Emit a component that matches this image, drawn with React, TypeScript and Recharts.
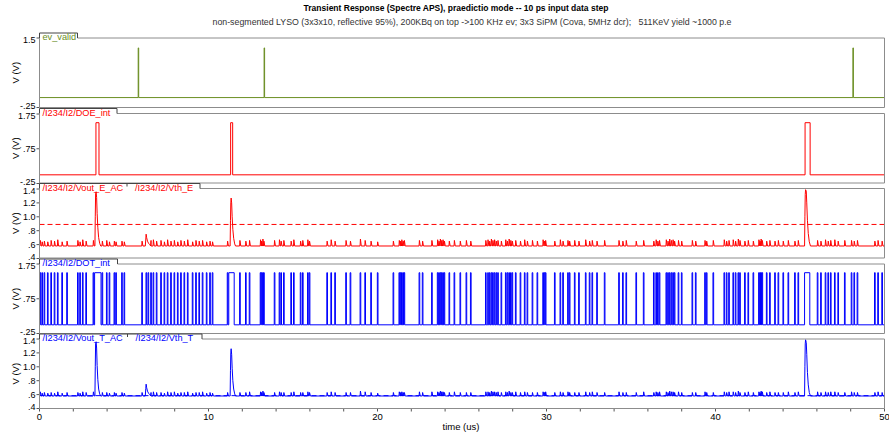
import React from "react";
import { LineChart, Line, XAxis, YAxis } from "recharts";

// time axis in us
const T_MAX = 50;
const X_TICKS = [0, 2, 4, 6, 8, 10, 12, 14, 16, 18, 20, 22, 24, 26, 28, 30, 32, 34, 36, 38, 40, 42, 44, 46, 48, 50];

const BASE = 0.58; // AC output resting level
const HIGH = 1.5; // digital high
const EV_HIGH = 1.25;
const VTH_E = 0.89;
const VTH_T = 0.585;

// [start, end] in us
const EV_PULSES = [[5.84, 5.87], [13.29, 13.32], [48.13, 48.16]];
const DOE_PULSES = [[3.34, 3.52], [11.31, 11.43], [45.3, 45.6]];
const DOT_WIDE = [[3.26, 3.64], [6.3, 6.34], [6.42, 6.46], [11.2, 11.52], [45.27, 45.58]];

// dark-count spikes: [t, height on Vout_E, height on Vout_T]
const SPIKES = [
  [0.05, 0.08, 0.06], [0.16, 0.06, 0.04], [0.29, 0.07, 0.05], [0.49, 0.06, 0.04], [0.69, 0.08, 0.05],
  [0.89, 0.07, 0.04], [1.08, 0.09, 0.06], [1.34, 0.06, 0.04], [1.63, 0.07, 0.05], [2.27, 0.08, 0.05],
  [2.4, 0.06, 0.04], [2.56, 0.09, 0.06], [2.76, 0.07, 0.05], [3.19, 0.08, 0.06], [3.72, 0.07, 0.05],
  [3.98, 0.08, 0.05], [4.14, 0.06, 0.04], [4.43, 0.07, 0.05], [4.53, 0.06, 0.04], [4.88, 0.07, 0.05],
  [5.02, 0.06, 0.04], [6.07, 0.07, 0.05], [6.6, 0.08, 0.05], [6.74, 0.09, 0.06], [6.93, 0.07, 0.05],
  [7.19, 0.08, 0.05], [7.39, 0.06, 0.04], [7.58, 0.09, 0.06], [7.78, 0.07, 0.05], [7.98, 0.08, 0.06],
  [8.18, 0.06, 0.04], [8.37, 0.08, 0.05], [8.57, 0.07, 0.05], [8.77, 0.09, 0.06], [9.06, 0.06, 0.04],
  [9.26, 0.08, 0.05], [9.45, 0.07, 0.05], [9.65, 0.08, 0.06], [9.89, 0.06, 0.04], [10.09, 0.07, 0.05],
  [10.24, 0.06, 0.04], [11.13, 0.07, 0.05], [11.86, 0.08, 0.05], [12.21, 0.07, 0.05], [12.43, 0.08, 0.06],
  [13.08, 0.09, 0.06], [13.14, 0.07, 0.05], [13.22, 0.1, 0.07], [13.28, 0.07, 0.05], [13.91, 0.08, 0.05],
  [14.2, 0.09, 0.06], [14.3, 0.07, 0.05], [14.46, 0.08, 0.05], [14.89, 0.07, 0.05], [15.05, 0.09, 0.06],
  [15.45, 0.07, 0.05], [15.58, 0.08, 0.05], [15.88, 0.09, 0.06], [15.98, 0.07, 0.05], [17.02, 0.07, 0.05],
  [17.26, 0.09, 0.06], [17.49, 0.07, 0.05], [18.14, 0.08, 0.05], [18.4, 0.07, 0.05], [18.99, 0.1, 0.07],
  [19.27, 0.08, 0.06], [19.62, 0.07, 0.05], [20.01, 0.06, 0.04], [20.94, 0.07, 0.05], [21.29, 0.08, 0.06],
  [21.37, 0.07, 0.05], [21.44, 0.09, 0.06], [21.52, 0.07, 0.05], [21.59, 0.08, 0.05], [22.48, 0.08, 0.06],
  [22.67, 0.07, 0.05], [23.22, 0.08, 0.06], [23.56, 0.09, 0.06], [23.64, 0.07, 0.05], [23.72, 0.1, 0.07],
  [23.8, 0.08, 0.06], [23.88, 0.09, 0.06], [23.96, 0.07, 0.05], [24.25, 0.07, 0.05], [24.55, 0.08, 0.06],
  [24.9, 0.07, 0.05], [25.26, 0.08, 0.05], [25.52, 0.07, 0.05], [26.41, 0.08, 0.06], [26.54, 0.09, 0.06],
  [26.64, 0.07, 0.05], [26.74, 0.1, 0.07], [26.83, 0.08, 0.06], [26.93, 0.09, 0.06], [27.03, 0.07, 0.05],
  [27.13, 0.08, 0.06], [27.33, 0.07, 0.05], [27.59, 0.09, 0.06], [27.69, 0.07, 0.05], [27.79, 0.1, 0.07],
  [27.89, 0.08, 0.05], [27.98, 0.07, 0.05], [28.18, 0.08, 0.06], [28.46, 0.07, 0.05], [28.71, 0.09, 0.06],
  [28.87, 0.07, 0.05], [29.17, 0.08, 0.05], [29.46, 0.07, 0.05], [29.8, 0.09, 0.06], [29.88, 0.07, 0.05],
  [29.95, 0.08, 0.06], [30.49, 0.07, 0.05], [30.82, 0.09, 0.06], [30.98, 0.07, 0.05], [31.27, 0.08, 0.06],
  [31.37, 0.07, 0.05], [31.67, 0.08, 0.05], [31.92, 0.07, 0.05], [32.32, 0.09, 0.06], [32.55, 0.07, 0.05],
  [32.71, 0.08, 0.06], [32.99, 0.07, 0.05], [33.44, 0.08, 0.05], [34.29, 0.08, 0.06], [34.52, 0.07, 0.05],
  [34.72, 0.08, 0.05], [35.31, 0.07, 0.05], [35.75, 0.08, 0.06], [36.35, 0.07, 0.05], [36.49, 0.09, 0.06],
  [36.59, 0.07, 0.05], [36.69, 0.08, 0.06], [37.09, 0.09, 0.06], [37.19, 0.07, 0.05], [37.29, 0.1, 0.07],
  [37.39, 0.08, 0.06], [37.49, 0.09, 0.06], [37.58, 0.07, 0.05], [37.81, 0.08, 0.06], [38.0, 0.07, 0.05],
  [38.63, 0.08, 0.05], [38.83, 0.07, 0.05], [39.38, 0.08, 0.06], [39.48, 0.07, 0.05], [39.87, 0.08, 0.05],
  [40.52, 0.09, 0.06], [40.66, 0.07, 0.05], [40.8, 0.08, 0.06], [41.05, 0.09, 0.06], [41.19, 0.07, 0.05],
  [41.35, 0.1, 0.07], [41.45, 0.08, 0.05], [41.74, 0.07, 0.05], [41.94, 0.08, 0.06], [42.24, 0.07, 0.05],
  [42.57, 0.09, 0.06], [42.64, 0.07, 0.05], [42.7, 0.1, 0.07], [42.77, 0.08, 0.06], [43.03, 0.07, 0.05],
  [43.22, 0.08, 0.06], [43.52, 0.07, 0.05], [43.72, 0.08, 0.05], [44.01, 0.07, 0.05], [44.31, 0.08, 0.06],
  [44.7, 0.07, 0.05], [44.9, 0.08, 0.06], [46.04, 0.08, 0.06], [46.24, 0.07, 0.05], [46.51, 0.09, 0.06],
  [46.67, 0.07, 0.05], [46.82, 0.08, 0.06], [47.06, 0.09, 0.06], [47.26, 0.07, 0.05], [47.65, 0.08, 0.05],
  [48.05, 0.08, 0.06], [48.21, 0.07, 0.05], [48.4, 0.08, 0.05], [49.43, 0.07, 0.05], [49.62, 0.08, 0.06],
  [49.86, 0.07, 0.05],
];

// event pulses [t, V]
const PEAKS_E = [
  [3.28, 0.58], [3.3, 1.0], [3.32, 1.33], [3.35, 1.36], [3.38, 1.28], [3.41, 1.05], [3.45, 0.85], [3.5, 0.7], [3.56, 0.62], [3.62, 0.58],
  [6.26, 0.58], [6.29, 0.68], [6.31, 0.75], [6.34, 0.7], [6.39, 0.65], [6.45, 0.62], [6.52, 0.6], [6.6, 0.58],
  [11.28, 0.58], [11.3, 0.95], [11.32, 1.2], [11.34, 1.27], [11.37, 1.2], [11.4, 1.0], [11.44, 0.82], [11.49, 0.69], [11.55, 0.61], [11.6, 0.58],
  [45.27, 0.58], [45.29, 1.0], [45.31, 1.32], [45.33, 1.39], [45.37, 1.37], [45.4, 1.2], [45.44, 0.95], [45.49, 0.76], [45.55, 0.64], [45.62, 0.58],
];
const PEAKS_T = [
  [3.28, 0.58], [3.3, 1.0], [3.32, 1.33], [3.35, 1.36], [3.38, 1.27], [3.41, 1.02], [3.45, 0.82], [3.5, 0.68], [3.56, 0.61], [3.62, 0.58],
  [6.26, 0.58], [6.29, 0.69], [6.31, 0.75], [6.34, 0.7], [6.39, 0.65], [6.45, 0.62], [6.52, 0.6], [6.6, 0.58],
  [11.28, 0.58], [11.3, 0.95], [11.32, 1.2], [11.34, 1.26], [11.37, 1.18], [11.4, 0.98], [11.44, 0.8], [11.49, 0.68], [11.55, 0.61], [11.6, 0.58],
  [45.27, 0.58], [45.29, 1.0], [45.31, 1.33], [45.33, 1.39], [45.37, 1.35], [45.4, 1.18], [45.44, 0.92], [45.49, 0.74], [45.55, 0.63], [45.62, 0.58],
];

const TICKS_DIG = [1.75, 0.75, -0.25];
const LABELS_DIG = ["1.75", ".75", "-.25"];
const TICKS_EV = [1.5, -0.25];
const LABELS_EV = ["1.5", "-.25"];
const TICKS_AC = [1.4, 1.2, 1.0, 0.8, 0.6, 0.4];
const LABELS_AC = ["1.4", "1.2", "1.0", ".8", ".6", ".4"];

const GREEN = "#6b8e23";
const RED = "#ff0000";
const BLUE = "#0000ff";
const FONT = "'Liberation Sans', Arial, sans-serif";

const W = 889;
const LEFT = 39.5;
const RIGHT = 884.5;
const PLOT_H = 69.5;
const PAD = 12;
const TOPS = [38, 113.5, 188.5, 264, 339];

function pulseTrain(pulses: number[][], high: number) {
  const pts = [{ t: 0, v: 0 }];
  [...pulses].sort((a, b) => a[0] - b[0]).forEach(([s, e]) => {
    pts.push({ t: s, v: 0 }, { t: s, v: high }, { t: e, v: high }, { t: e, v: 0 });
  });
  pts.push({ t: T_MAX, v: 0 });
  return pts;
}

function acTrace(col: number, peaks: number[][]) {
  const pts: number[][] = [[0, BASE], [T_MAX, BASE]];
  SPIKES.forEach((s) => {
    pts.push([s[0] - 0.02, BASE], [s[0], BASE + s[col]], [s[0] + 0.05, BASE]);
  });
  peaks.forEach((p) => pts.push(p));
  return pts.sort((a, b) => a[0] - b[0]).map(([t, v]) => ({ t, v }));
}

const evData = pulseTrain(EV_PULSES, EV_HIGH);
const doeData = pulseTrain(DOE_PULSES, HIGH);
const dotData = pulseTrain(SPIKES.map((s) => [s[0] - 0.02, s[0] + 0.02]).concat(DOT_WIDE), HIGH);
const voutE = acTrace(1, PEAKS_E);
const voutT = acTrace(2, PEAKS_T);
const vthE = [{ t: 0, v: VTH_E }, { t: T_MAX, v: VTH_E }];
const vthT = [{ t: 0, v: VTH_T }, { t: T_MAX, v: VTH_T }];

const tickStyle = { fontSize: 9, fill: "#000", fontFamily: FONT };

// y tick label; the end labels are nudged inwards so neighbouring panels don't collide
const makeYTick = (ticks: number[], labels: string[]) => (props: any) => {
  const { x, y, payload } = props;
  const i = ticks.indexOf(payload.value);
  const dy = i === 0 ? 1.5 : i === ticks.length - 1 ? -1.5 : 0;
  return (
    <text x={x} y={y + dy} dy="0.35em" textAnchor="end" {...tickStyle}>
      {labels[i] ?? ""}
    </text>
  );
};

type PanelProps = {
  top: number;
  domain: number[];
  ticks: number[];
  labels: string[];
  showX?: boolean;
  children: React.ReactNode;
};

const Panel = ({ top, domain, ticks, labels, showX, children }: PanelProps) => {
  const xH = showX ? 22 : 0;
  return (
    <div style={{ position: "absolute", left: 0, top: top - PAD }}>
      <LineChart
        width={W}
        height={PAD + PLOT_H + (showX ? xH : PAD)}
        margin={{ top: PAD, right: W - RIGHT, bottom: showX ? 0 : PAD, left: 8.5 }}
      >
        <XAxis
          type="number"
          dataKey="t"
          domain={[0, T_MAX]}
          ticks={X_TICKS}
          interval={0}
          hide={!showX}
          height={xH}
          axisLine={false}
          tickSize={3}
          tickMargin={2}
          tickLine={{ stroke: "#555" }}
          tick={{ ...tickStyle, fontSize: 9.5 }}
          tickFormatter={(v: number) => (v % 10 === 0 ? String(v) : "")}
          allowDataOverflow
        />
        <YAxis
          type="number"
          dataKey="v"
          domain={domain}
          ticks={ticks}
          interval={0}
          width={LEFT - 8.5}
          axisLine={false}
          tickSize={3}
          tickMargin={1}
          tickLine={{ stroke: "#555" }}
          tick={makeYTick(ticks, labels)}
          allowDataOverflow
        />
        {children}
      </LineChart>
    </div>
  );
};

// plot frame whose top edge steps up into a label tab at the left
const Frame = ({ top, names, color, edges }: { top: number; names: string[]; color: string; edges: number[] }) => {
  const tTop = top - 5;
  const tabR = edges[edges.length - 1];
  const bottom = top + PLOT_H;
  return (
    <g>
      <path d={`M${tabR} ${top} H${RIGHT} V${bottom} H${LEFT} V${top}`} fill="none" stroke="#8c8c8c" />
      <path d={`M${LEFT} ${top} V${tTop} H${tabR} V${top}`} fill="none" stroke="#444" />
      {edges.slice(0, -1).map((e) => (
        <line key={e} x1={e} x2={e} y1={tTop} y2={tTop + 3} stroke="#444" />
      ))}
      {names.map((n, i) => (
        <text key={n} x={i === 0 ? LEFT + 3 : edges[i - 1] + 8} y={top + 2} fontSize={9.2} fill={color} fontFamily={FONT}>
          {n}
        </text>
      ))}
      <text
        x={18.5}
        y={top + PLOT_H / 2}
        transform={`rotate(-90 18.5 ${top + PLOT_H / 2})`}
        textAnchor="middle"
        fontSize={9.5}
        fontFamily={FONT}
      >
        V (V)
      </text>
    </g>
  );
};

const Decor = () => (
  <svg width={W} height={433} style={{ position: "absolute", left: 0, top: 0, pointerEvents: "none" }}>
    <text x={456} y={11} textAnchor="middle" fontSize={8.5} fontWeight="bold" fontFamily={FONT}>
      Transient Response (Spectre APS), praedictio mode -- 10 ps input data step
    </text>
    <text x={472} y={25} textAnchor="middle" fontSize={8.8} fill="#333" fontFamily={FONT} style={{ whiteSpace: "pre" }}>
      {"non-segmented LYSO (3x3x10, reflective 95%), 200KBq on top ->100 KHz ev; 3x3 SiPM (Cova, 5MHz dcr);   511KeV yield ~1000 p.e"}
    </text>
    <Frame top={TOPS[0]} names={["ev_valid"]} color={GREEN} edges={[77.5]} />
    <Frame top={TOPS[1]} names={["/I234/I2/DOE_int"]} color={RED} edges={[117]} />
    <Frame top={TOPS[2]} names={["/I234/I2/Vout_E_AC", "/I234/I2/Vth_E"]} color={RED} edges={[127, 200]} />
    <Frame top={TOPS[3]} names={["/I234/I2/DOT_int"]} color={BLUE} edges={[117.5]} />
    <Frame top={TOPS[4]} names={["/I234/I2/Vout_T_AC", "/I234/I2/Vth_T"]} color={BLUE} edges={[127.5, 202]} />
    <text x={461} y={430} textAnchor="middle" fontSize={9.5} fontFamily={FONT}>
      time (us)
    </text>
  </svg>
);

export default function App() {
  return (
    <div style={{ position: "absolute", left: 0, top: 0, width: W, height: 433, background: "#fff" }}>
      <Panel top={TOPS[0]} domain={[-0.25, 1.5]} ticks={TICKS_EV} labels={LABELS_EV}>
        <Line data={evData} dataKey="v" stroke={GREEN} strokeWidth={1} dot={false} isAnimationActive={false} />
      </Panel>
      <Panel top={TOPS[1]} domain={[-0.25, 1.75]} ticks={TICKS_DIG} labels={LABELS_DIG}>
        <Line data={doeData} dataKey="v" stroke={RED} strokeWidth={1} dot={false} isAnimationActive={false} />
      </Panel>
      <Panel top={TOPS[2]} domain={[0.4, 1.4]} ticks={TICKS_AC} labels={LABELS_AC}>
        <Line data={vthE} dataKey="v" stroke={RED} strokeWidth={1} strokeDasharray="5 3" dot={false} isAnimationActive={false} />
        <Line data={voutE} dataKey="v" stroke={RED} strokeWidth={1} dot={false} isAnimationActive={false} />
      </Panel>
      <Panel top={TOPS[3]} domain={[-0.25, 1.75]} ticks={TICKS_DIG} labels={LABELS_DIG}>
        <Line data={dotData} dataKey="v" stroke={BLUE} strokeWidth={1} dot={false} isAnimationActive={false} />
      </Panel>
      <Panel top={TOPS[4]} domain={[0.4, 1.4]} ticks={TICKS_AC} labels={LABELS_AC} showX>
        <Line data={vthT} dataKey="v" stroke={BLUE} strokeWidth={1} strokeDasharray="5 3" dot={false} isAnimationActive={false} />
        <Line data={voutT} dataKey="v" stroke={BLUE} strokeWidth={1} dot={false} isAnimationActive={false} />
      </Panel>
      <Decor />
    </div>
  );
}
